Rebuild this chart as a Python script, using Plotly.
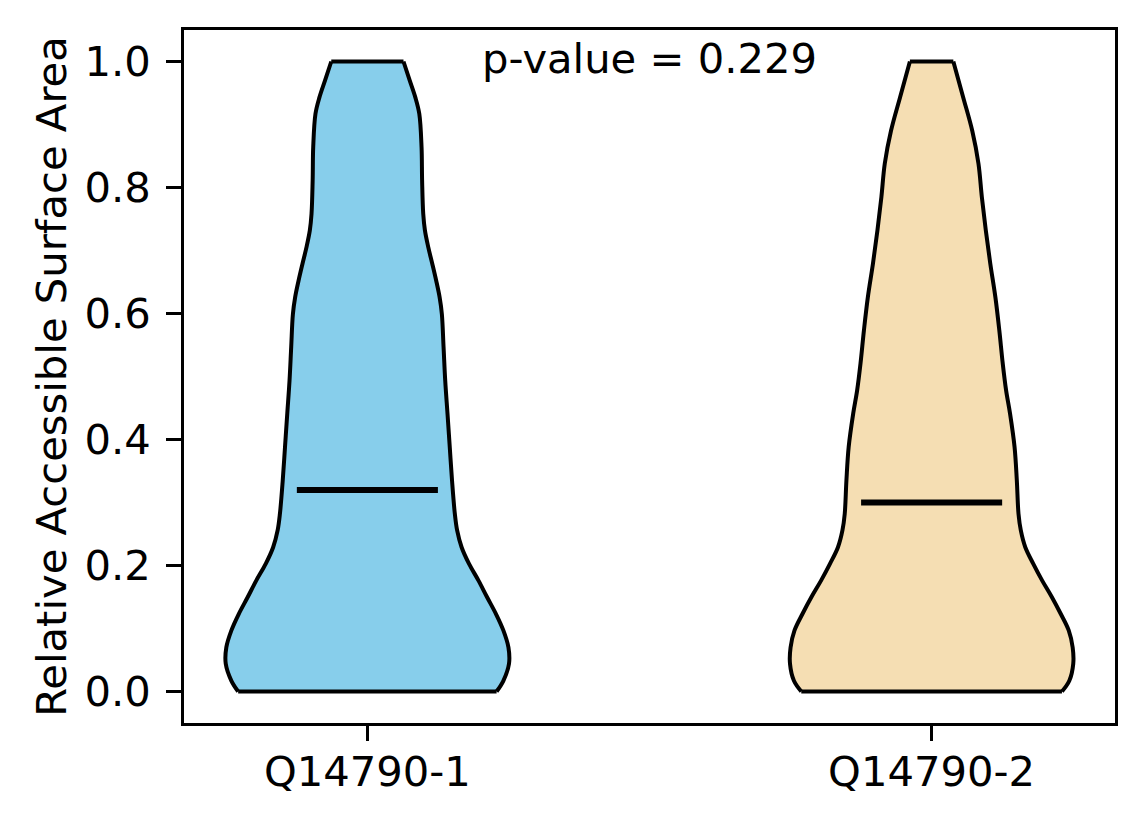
import plotly.graph_objects as go

# ---- data ----
categories = ["Q14790-1", "Q14790-2"]
positions = [1, 2]
colors = ["#87CEEB", "#F5DEB3"]
medians = [0.32, 0.30]
p_value_text = "p-value = 0.229"

# density outline: y levels (bottom -> top) and half-widths (x data units)
v1_y = [0.000, 0.017, 0.044, 0.070, 0.097, 0.123, 0.150, 0.176, 0.203, 0.229,
        0.256, 0.282, 0.335, 0.388, 0.441, 0.493, 0.547, 0.599, 0.626, 0.652,
        0.679, 0.705, 0.732, 0.758, 0.811, 0.864, 0.917, 0.943, 0.970, 1.000]
v1_w = [0.229, 0.241, 0.251, 0.250, 0.241, 0.228, 0.212, 0.197, 0.180, 0.167,
        0.159, 0.155, 0.150, 0.146, 0.142, 0.138, 0.135, 0.132, 0.128, 0.122,
        0.115, 0.108, 0.102, 0.099, 0.097, 0.096, 0.092, 0.085, 0.075, 0.064]

v2_y = [0.000, 0.017, 0.044, 0.070, 0.097, 0.123, 0.150, 0.176, 0.203, 0.229,
        0.256, 0.282, 0.335, 0.388, 0.441, 0.478, 0.521, 0.573, 0.626, 0.679,
        0.732, 0.785, 0.838, 0.890, 0.943, 1.000]
v2_w = [0.231, 0.244, 0.251, 0.250, 0.243, 0.229, 0.213, 0.196, 0.180, 0.166,
        0.158, 0.154, 0.151, 0.147, 0.139, 0.132, 0.126, 0.120, 0.113, 0.104,
        0.096, 0.089, 0.083, 0.072, 0.056, 0.0385]

y_ticks = [0.0, 0.2, 0.4, 0.6, 0.8, 1.0]
y_label = "Relative Accessible Surface Area"
median_half = 0.125

FONT = "DejaVu Sans"
FS = 41.7
LW = 3.3
EDGE = 4

fig = go.Figure()
for pos, col, ys, ws in [(positions[0], colors[0], v1_y, v1_w),
                         (positions[1], colors[1], v2_y, v2_w)]:
    spl = dict(color="black", width=EDGE, shape="spline", smoothing=1.0)
    # left side
    fig.add_trace(go.Scatter(x=[pos - w for w in ws], y=ys, mode="lines",
                             line=spl, hoverinfo="skip", showlegend=False))
    # right side, filled to the left side
    fig.add_trace(go.Scatter(x=[pos + w for w in ws], y=ys, mode="lines",
                             fill="tonextx", fillcolor=col,
                             line=spl, hoverinfo="skip", showlegend=False))
    # flat bottom and top edges
    fig.add_trace(go.Scatter(x=[pos - ws[0], pos + ws[0], None, pos - ws[-1], pos + ws[-1]],
                             y=[ys[0], ys[0], None, ys[-1], ys[-1]], mode="lines",
                             line=dict(color="black", width=EDGE),
                             hoverinfo="skip", showlegend=False))

for pos, med in zip(positions, medians):
    fig.add_trace(go.Scatter(x=[pos - median_half, pos + median_half], y=[med, med],
                             mode="lines", line=dict(color="black", width=6),
                             hoverinfo="skip", showlegend=False))

fig.add_annotation(text=p_value_text, x=0.5, y=0.997, xref="paper", yref="paper",
                   xanchor="center", yanchor="top", showarrow=False,
                   font=dict(family=FONT, size=FS, color="black"))

axis_common = dict(showline=True, linecolor="black", linewidth=LW, mirror=True,
                   ticks="outside", ticklen=14.6, tickwidth=LW, tickcolor="black",
                   showgrid=False, zeroline=False,
                   tickfont=dict(family=FONT, size=FS, color="black"))

fig.update_xaxes(range=[0.675, 2.325], tickvals=positions, ticktext=categories,
                 ticklabelstandoff=-5, **axis_common)
fig.update_yaxes(range=[-0.05, 1.05], tickvals=y_ticks, tickformat=".1f",
                 ticklabelstandoff=7,
                 title=dict(text=y_label, font=dict(family=FONT, size=FS, color="black"),
                            standoff=6),
                 **axis_common)

fig.update_layout(width=1136, height=816,
                  margin=dict(l=176, r=29, t=22, b=101, autoexpand=False),
                  plot_bgcolor="white", paper_bgcolor="white",
                  font=dict(family=FONT, size=FS, color="black"))

fig.write_html("out.html")
